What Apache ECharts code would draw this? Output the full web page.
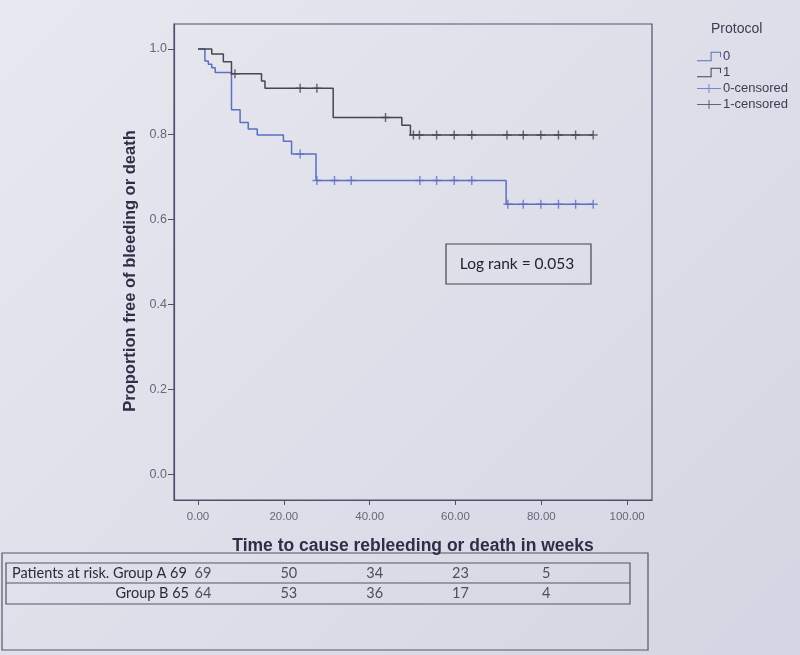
<!DOCTYPE html>
<html>
<head>
<meta charset="utf-8">
<script src="https://cdn.jsdelivr.net/npm/echarts@6/dist/echarts.min.js"></script>
<style>
    html, body { margin: 0; padding: 0; }
    body { background: linear-gradient(135deg, #e8e8f0 0%, #dcdde8 60%, #d4d5e2 100%); }
    #main { width: 800px; height: 655px; }
</style>
</head>
<body>
<div id="main"></div>
<script>
'use strict';

// Kaplan-Meier steps, [weeks, proportion]
var curve0 = [[0, 1.0], [1.6, 0.972], [2.4, 0.964], [3.2, 0.956], [4.0, 0.945], [7.8, 0.857],
    [9.8, 0.827], [11.7, 0.812], [13.8, 0.798], [19.9, 0.783], [21.8, 0.753], [27.5, 0.691],
    [71.8, 0.635], [92.1, 0.635]];
var curve1 = [[0, 1.0], [3.2, 0.988], [5.9, 0.970], [7.8, 0.942], [14.8, 0.925], [15.6, 0.908],
    [31.5, 0.839], [47.5, 0.821], [49.5, 0.798], [92.1, 0.798]];
var censor0 = [[23.8, 0.753], [27.7, 0.691], [31.8, 0.691], [35.7, 0.691], [51.7, 0.691],
    [55.6, 0.691], [59.7, 0.691], [63.8, 0.691], [72.2, 0.635], [75.8, 0.635], [79.9, 0.635],
    [84.0, 0.635], [88.0, 0.635], [92.1, 0.635]];
var censor1 = [[8.6, 0.942], [23.8, 0.908], [27.7, 0.908], [43.7, 0.839], [50.2, 0.798],
    [51.6, 0.798], [55.6, 0.798], [59.7, 0.798], [63.8, 0.798], [72.0, 0.798], [75.8, 0.798],
    [79.9, 0.798], [84.0, 0.798], [88.0, 0.798], [92.1, 0.798]];

var xTicks = [0, 20, 40, 60, 80, 100];
var yTicks = [0, 0.2, 0.4, 0.6, 0.8, 1.0];

// patients at risk
var riskWeeks = [0, 20, 40, 60, 80];
var riskA = [69, 50, 34, 23, 5];
var riskB = [64, 53, 36, 17, 4];
var riskRows = ['Patients at risk. Group A 69', 'Group B 65'];

var blue = '#5b6fc4';
var dark = '#46464e';
var axisCol = '#50506c';
var labelCol = '#66667c';

var stepIcon = 'path://M0,8h14v1h-14z M13,1h1v8h-1z M13,0h10v1h-10z M22,0h1v5h-1z';
var censorIcon = 'path://M0,4h24v1h-24z M11.5,0h1v9h-1z';
var plusMark = 'path://M0,4.2h10v1.6h-10z M4.2,0h1.6v10h-1.6z';

var riskData = [];
for (var i = 0; i < riskWeeks.length; i++) {
    riskData.push([riskWeeks[i], 0, riskA[i]]);
    riskData.push([riskWeeks[i], 1, riskB[i]]);
}

var xMin = -5.6, xMax = 105.8;

var myChart = echarts.init(document.getElementById('main'));
myChart.setOption({
    animation: false,
    textStyle: { fontFamily: 'Liberation Sans' },
    grid: [{
        left: 174, top: 24, width: 478, height: 476,
        show: true, borderColor: axisCol, borderWidth: 1.2, backgroundColor: 'transparent'
    }, {
        left: 174, top: 563, width: 478, height: 40
    }],
    legend: {
        orient: 'vertical',
        left: 692,
        top: 45,
        itemGap: 3,
        itemWidth: 24,
        itemHeight: 11,
        textStyle: { fontSize: 13, color: '#3c3c52', padding: [0, 0, 0, -3] },
        data: [
            { name: '0', icon: stepIcon },
            { name: '1', icon: stepIcon },
            { name: '0-censored', icon: censorIcon },
            { name: '1-censored', icon: censorIcon }
        ]
    },
    xAxis: [{
        type: 'value',
        gridIndex: 0,
        min: xMin,
        max: xMax,
        name: 'Time to cause rebleeding or death in weeks',
        nameLocation: 'middle',
        nameGap: 37,
        nameTextStyle: { fontSize: 17.5, fontWeight: 'bold', color: '#2e2e48' },
        axisLine: { onZero: false, lineStyle: { color: axisCol, width: 1.2 } },
        axisTick: { customValues: xTicks, length: 5, lineStyle: { color: axisCol } },
        axisLabel: {
            customValues: xTicks, margin: 11, fontSize: 11.5, color: labelCol,
            formatter: function (v) { return v.toFixed(2); }
        },
        splitLine: { show: false }
    }, {
        type: 'value',
        gridIndex: 1,
        min: xMin,
        max: xMax,
        show: false
    }],
    yAxis: [{
        type: 'value',
        gridIndex: 0,
        min: -0.06,
        max: 1.0588,
        name: 'Proportion free of bleeding or death',
        nameLocation: 'middle',
        nameGap: 30,
        nameTextStyle: { fontSize: 16.5, fontWeight: 'bold', color: '#2e2e48', padding: [0, 18, 0, 0] },
        axisLine: { onZero: false, lineStyle: { color: axisCol, width: 1.2 } },
        axisTick: { customValues: yTicks, length: 6, lineStyle: { color: axisCol } },
        axisLabel: {
            customValues: yTicks, margin: 7, fontSize: 12.5, color: labelCol,
            formatter: function (v) { return v.toFixed(1); }
        },
        splitLine: { show: false }
    }, {
        type: 'value',
        gridIndex: 1,
        min: -0.5,
        max: 1.5,
        inverse: true,
        show: false
    }],
    series: [{
        name: '0',
        type: 'line',
        step: 'end',
        showSymbol: false,
        data: curve0,
        color: blue,
        lineStyle: { color: blue, width: 1.5 },
        z: 3
    }, {
        name: '1',
        type: 'line',
        step: 'end',
        showSymbol: false,
        data: curve1,
        color: dark,
        lineStyle: { color: dark, width: 1.5 },
        z: 3
    }, {
        name: '0-censored',
        type: 'scatter',
        symbol: plusMark,
        symbolSize: 9,
        data: censor0,
        color: blue,
        z: 4
    }, {
        name: '1-censored',
        type: 'scatter',
        symbol: plusMark,
        symbolSize: 9,
        data: censor1,
        color: dark,
        z: 4
    }, {
        name: 'risk',
        type: 'scatter',
        xAxisIndex: 1,
        yAxisIndex: 1,
        symbolSize: 0,
        data: riskData,
        label: {
            show: true,
            position: 'inside',
            offset: [5, 0],
            fontFamily: 'Lato',
            fontSize: 14.5,
            color: '#2a2a3a',
            formatter: function (p) { return p.value[2]; }
        },
        silent: true
    }],
    graphic: [{
        type: 'text', left: 711, top: 22,
        style: { text: 'Protocol', fontSize: 14, fill: '#3c3c52', fontFamily: 'Liberation Sans' }
    }, {
        type: 'rect', shape: { x: 446, y: 244, width: 145, height: 40 },
        style: { fill: 'none', stroke: '#45454f', lineWidth: 1.2 }
    }, {
        type: 'text', x: 517, y: 264,
        style: { text: 'Log rank = 0.053', fontSize: 15.5, fill: '#222230', fontFamily: 'Lato',
            align: 'center', verticalAlign: 'middle' }
    }, {
        type: 'rect', shape: { x: 2, y: 553, width: 646, height: 97 },
        style: { fill: 'none', stroke: '#55556a', lineWidth: 1.2 }
    }, {
        type: 'rect', shape: { x: 6, y: 563, width: 624, height: 41 },
        style: { fill: 'none', stroke: '#55556a', lineWidth: 1.2 }
    }, {
        type: 'line', shape: { x1: 6, y1: 583, x2: 630, y2: 583 },
        style: { stroke: '#55556a', lineWidth: 1.2 }
    }, {
        type: 'text', x: 12, y: 573,
        style: { text: riskRows[0], fontSize: 14.5, fill: '#2a2a3a', fontFamily: 'Lato',
            verticalAlign: 'middle' }
    }, {
        type: 'text', x: 189, y: 593,
        style: { text: riskRows[1], fontSize: 14.5, fill: '#2a2a3a', fontFamily: 'Lato',
            align: 'right', verticalAlign: 'middle' }
    }]
});
</script>
</body>
</html>
